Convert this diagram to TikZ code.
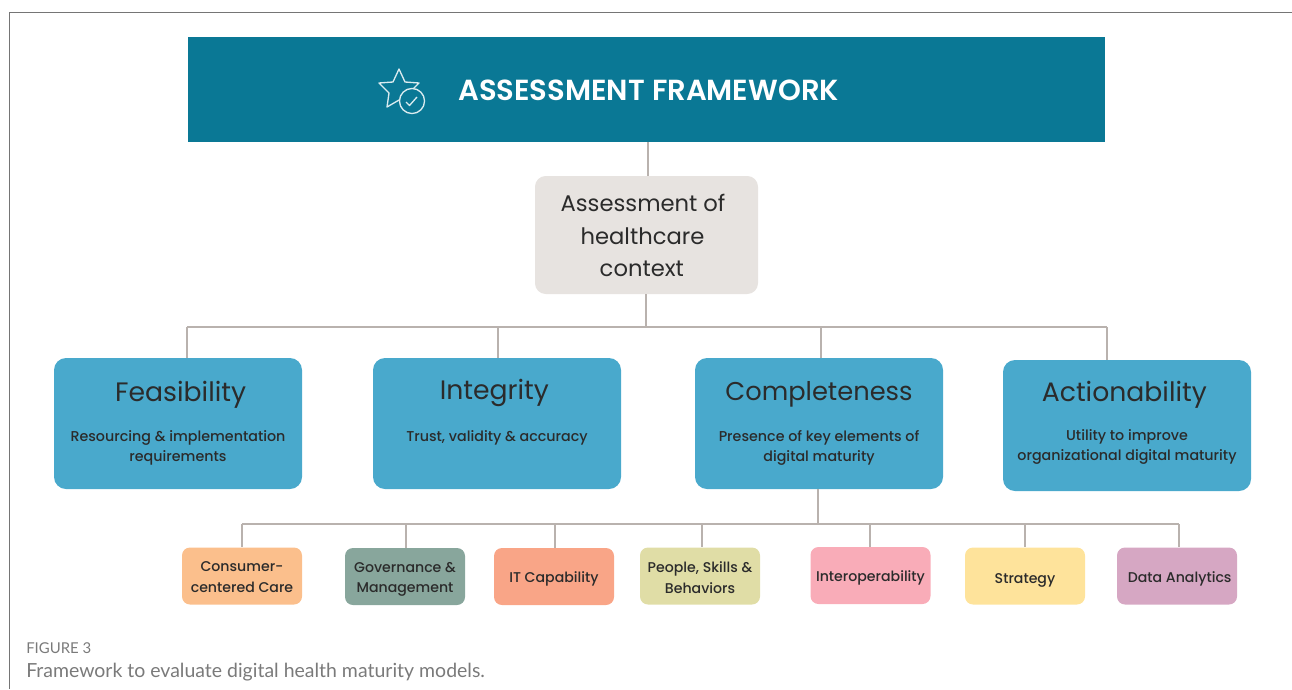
\documentclass[tikz,border=0pt]{standalone}
\usepackage{fontspec}
\setmainfont{Poppins}
\newfontfamily\capfont{Lato}
\newfontfamily\medfont{Poppins Medium}
\newfontfamily\semifont{Poppins SemiBold}
\definecolor{titlec}{HTML}{0A7895}
\definecolor{assessc}{HTML}{E7E3E0}
\definecolor{bluec}{HTML}{49A9CC}
\definecolor{linec}{HTML}{B9B2AE}
\definecolor{framec}{HTML}{757575}
\definecolor{inkc}{HTML}{2B2B2B}
\definecolor{capc}{HTML}{7A7A7A}
\definecolor{orangec}{HTML}{FBBF8C}
\definecolor{greenc}{HTML}{88A69C}
\definecolor{salmonc}{HTML}{F9A587}
\definecolor{olivec}{HTML}{E0DDA6}
\definecolor{pinkc}{HTML}{F9ACB8}
\definecolor{yellowc}{HTML}{FEE39B}
\definecolor{mauvec}{HTML}{D6A7C3}
\tikzset{
  x=0.75pt,y=-0.75pt,
  conn/.style={draw=linec,line width=1.4pt},
  framel/.style={draw=framec,line width=0.8pt},
  bigbox/.style={fill=bluec,rounded corners=9pt,minimum width=186pt,minimum height=98.25pt,align=center,inner sep=0pt,text=inkc,font=\medfont\fontsize{10.7pt}{15pt}\selectfont},
  smallbox/.style={rounded corners=6pt,minimum width=90pt,minimum height=42.75pt,align=center,inner sep=0pt,text=inkc,font=\medfont\fontsize{10.6pt}{15.5pt}\selectfont},
  icon/.style={draw=white!85!titlec,line width=1pt,line join=round},
}
\newcommand{\bigt}[1]{{\rmfamily\fontsize{20pt}{24pt}\selectfont #1}}
\newcommand{\lsh}[1]{\rule{#1}{0pt}}
\newcommand{\raiseby}[1]{\rule[-#1]{0pt}{0pt}}
\begin{document}
\begin{tikzpicture}
\useasboundingbox (0,0) rectangle (1292,689);
% frame
\coordinate (ftr) at (1292,12.5);
\coordinate (ftl) at (9.5,12.5);
\coordinate (fbl) at (9.5,689);
\draw[framel] (ftr) -- (ftl) -- (fbl);
% connector junctions
\coordinate (t1) at (648,142);
\coordinate (a1) at (646,294);
\coordinate (busL) at (187,327);
\coordinate (busI) at (498,327);
\coordinate (busC) at (821,327);
\coordinate (busR) at (1107,327);
\coordinate (c1) at (818,489);
\coordinate (lowA) at (242,524);
\coordinate (lowB) at (406,524);
\coordinate (lowC) at (555,524);
\coordinate (lowD) at (702,524);
\coordinate (lowE) at (870,524);
\coordinate (lowF) at (1025,524);
\coordinate (lowG) at (1179,524);
% nodes
\node[fill=titlec,minimum width=687.75pt,minimum height=78.75pt,inner sep=0pt] (title) at (646.5,89.5) {};
\node[text=white,anchor=west,inner sep=0pt,font=\semifont\fontsize{21.8pt}{24pt}\selectfont] (titletext) at (458,90.5) {ASSESSMENT FRAMEWORK};
\node[fill=assessc,rounded corners=8pt,minimum width=167.25pt,minimum height=88.5pt,align=center,inner sep=0pt,text=inkc,font=\fontsize{17pt}{24.4pt}\selectfont] (assess) at (646.5,235) {\rule{0pt}{14pt}Assessment of\lsh{5.25pt}\\healthcare\lsh{6pt}\\context\lsh{7pt}};
\node[bigbox] (feas) at (178,423.5) {\bigt{\lsh{4pt}Feasibility}\\[14.7pt]Resourcing \& implementation\\requirements\raiseby{1.5pt}};
\node[bigbox] (integ) at (497,423.5) {\bigt{Integrity\lsh{4pt}}\\[16.5pt]Trust, validity \& accuracy\\\strut};
\node[bigbox] (compl) at (819,423.5) {{\rmfamily\fontsize{19.3pt}{24pt}\selectfont Completeness}\\[15.5pt]Presence of key elements of\\digital maturity};
\node[bigbox] (action) at (1127,425.5) {\bigt{Actionability\lsh{4pt}}\\[14pt]Utility to improve\\organizational digital maturity\raiseby{7pt}};
\node[smallbox,fill=orangec] (cons) at (242,576) {\rule{0pt}{9.5pt}Consumer-\\centered Care};
\node[smallbox,fill=greenc] (gov) at (405,576.5) {\rule{0pt}{12pt}Governance \&\\Management};
\node[smallbox,fill=salmonc] (itc) at (554,576.5) {\rule{0pt}{12pt}IT Capability};
\node[smallbox,fill=olivec] (people) at (700,576) {\rule{0pt}{11pt}People, Skills \&\\Behaviors};
\node[smallbox,fill=pinkc] (inter) at (870.5,575.5) {\rule{0pt}{12pt}Interoperability};
\node[smallbox,fill=yellowc] (strat) at (1025,576) {\rule{0pt}{14pt}Strategy};
\node[smallbox,fill=mauvec] (data) at (1177,576) {\rule{0pt}{12pt}\lsh{4pt}Data Analytics};
% connectors
\draw[conn] (t1) -- (t1 |- assess.north);
\draw[conn] (a1) -- (a1 |- busL);
\draw[conn] (busL) -- (busR);
\draw[conn] (busL) -- (busL |- feas.north);
\draw[conn] (busI) -- (busI |- integ.north);
\draw[conn] (busC) -- (busC |- compl.north);
\draw[conn] (busR) -- (busR |- action.north);
\draw[conn] (c1) -- (c1 |- lowA);
\draw[conn] (lowA) -- (lowG);
\draw[conn] (lowA) -- (lowA |- cons.north);
\draw[conn] (lowB) -- (lowB |- gov.north);
\draw[conn] (lowC) -- (lowC |- itc.north);
\draw[conn] (lowD) -- (lowD |- people.north);
\draw[conn] (lowE) -- (lowE |- inter.north);
\draw[conn] (lowF) -- (lowF |- strat.north);
\draw[conn] (lowG) -- (lowG |- data.north);
% icon
\draw[icon] (399,69) -- (405,82) -- (419,83) -- (409,93) -- (412,106) -- (399,100) -- (387,107) -- (389,93) -- (379,83) -- (393,82) -- cycle;
\draw[icon,fill=titlec] (412,101) circle[radius=9.4pt];
\draw[icon] (406,102) -- (409.5,105.5) -- (417,97);
% caption
\node[anchor=west,inner sep=0pt,text=capc,font=\capfont\fontsize{11.2pt}{13pt}\selectfont] (figlabel) at (26,648) {FIGURE 3};
\node[anchor=west,inner sep=0pt,text=capc,font=\capfont\fontsize{14.6pt}{16pt}\selectfont] (figcap) at (26,672) {Framework to evaluate digital health maturity models.};
\end{tikzpicture}
\end{document}
